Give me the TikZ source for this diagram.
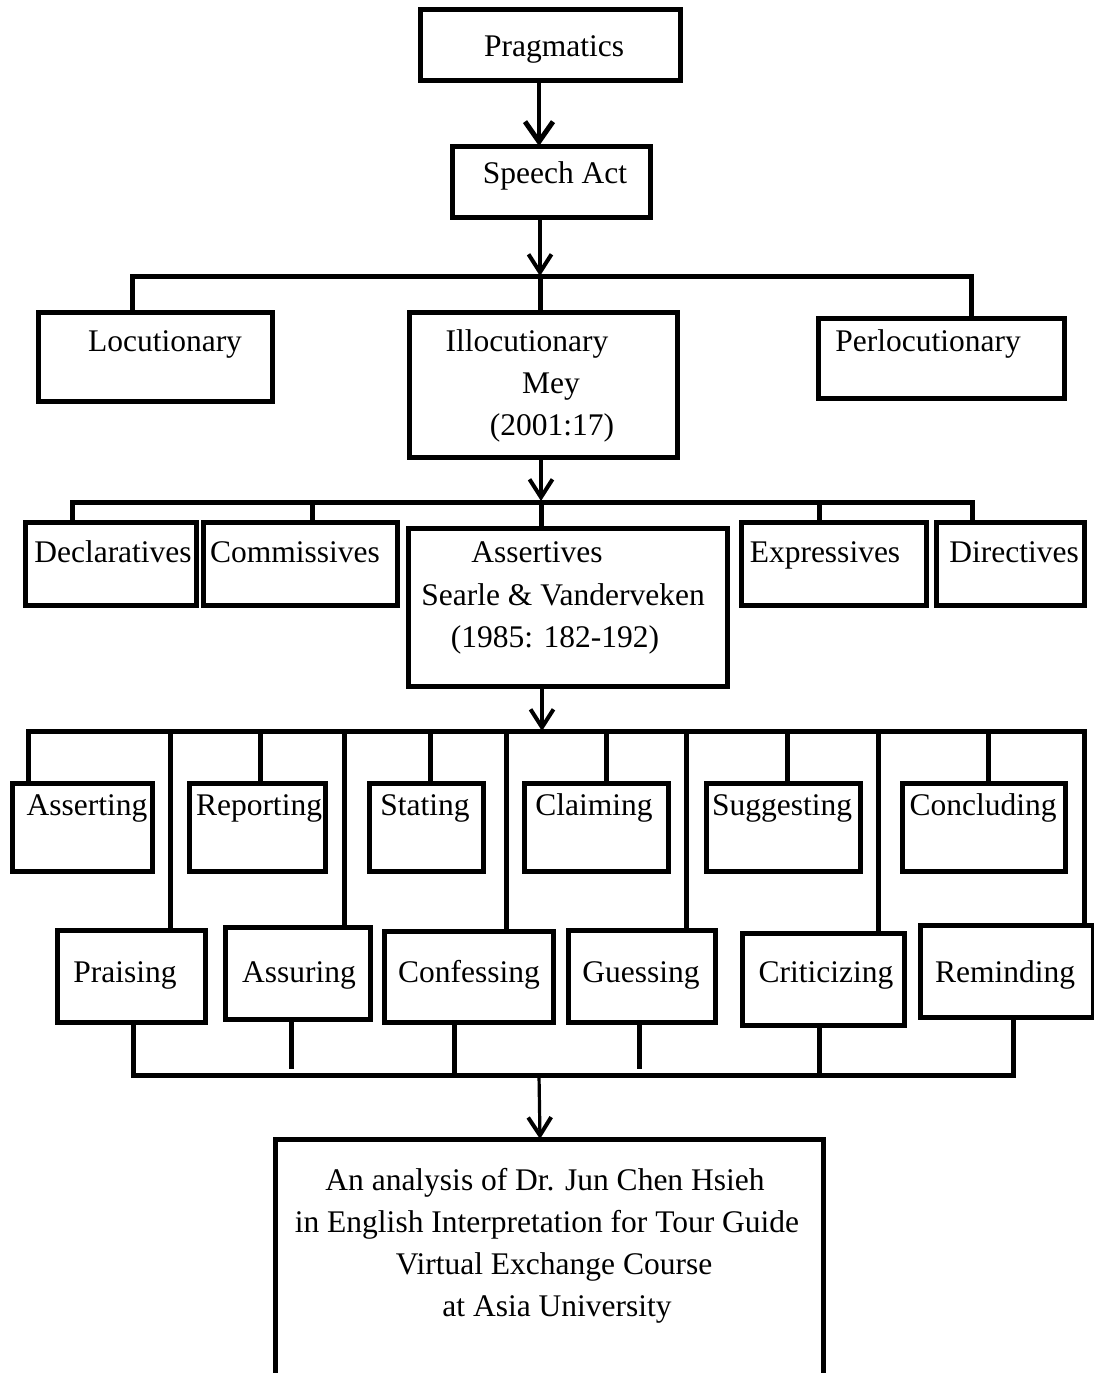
\documentclass[tikz,border=0pt]{standalone}
\usepackage{fontspec}
\setmainfont{Liberation Serif}
\usetikzlibrary{arrows.meta}
\newcommand\mybox[5]{\node[box, minimum width=#4pt-#2pt, minimum height=#5pt-#3pt] (#1) at ({(#2+#4)/2},{(#3+#5)/2}) {};}
\newcommand\mytxt[4]{\node[lbl] (#1) at (#2,#3) {#4};}
\begin{document}
\begin{tikzpicture}[x=1pt,y=-1pt,
  box/.style={draw, line width=5pt, rectangle, inner sep=0pt, outer sep=0pt},
  lbl/.style={anchor=base, inner sep=0pt, font=\fontsize{31.5}{38}\selectfont},
  conn/.style={line width=5pt},
  arr/.style={line width=3.2pt, -{Straight Barb[length=18pt,width=23pt,line width=4pt]}},
  bigarr/.style={line width=3.4pt, -{Straight Barb[length=20pt,width=28pt,line width=5pt]}},
]
\clip (0,0) rectangle (1094,1373);
\fill[white] (0,0) rectangle (1094,1373);

% boxes
\mybox{prag}{420}{9}{680}{80}
\mybox{speech}{452}{146}{650}{217}
\mybox{loc}{38}{312}{272}{401}
\mybox{illo}{409}{312}{677}{457}
\mybox{perl}{818}{318}{1064}{398}
\mybox{decl}{25}{522}{196}{605}
\mybox{comm}{203}{522}{397}{605}
\mybox{asse}{408}{528}{727}{686}
\mybox{expr}{741}{522}{926}{605}
\mybox{dire}{936}{522}{1084}{605}
\mybox{asg}{12}{783}{152}{871}
\mybox{rep}{189}{783}{325}{871}
\mybox{sta}{369}{783}{483}{871}
\mybox{cla}{524}{783}{668}{871}
\mybox{sug}{706}{783}{860}{871}
\mybox{con}{902}{783}{1065}{871}
\mybox{pra}{57}{930}{205}{1022}
\mybox{asu}{225}{927}{370}{1019}
\mybox{conf}{384}{931}{553}{1022}
\mybox{gue}{568}{930}{715}{1022}
\mybox{cri}{742}{933}{904}{1025}
\mybox{remi}{920}{925}{1093}{1017}
\node[box, minimum width=548pt, minimum height=300pt, anchor=north] (fin) at (549,1139) {};

% labels
\mytxt{tprag}{554}{56}{Pragmatics}
\mytxt{tspeech}{555}{183}{Speech Act}
\mytxt{tloc}{165}{351}{Locutionary}
\mytxt{tillo}{527}{351}{Illocutionary}
\mytxt{tmey}{551}{393}{Mey}
\mytxt{tmeyy}{552}{435}{(2001:17)}
\mytxt{tperl}{928}{351}{Perlocutionary}
\mytxt{tdecl}{113}{562}{Declaratives}
\mytxt{tcomm}{295}{562}{Commissives}
\mytxt{tasse}{537}{562}{Assertives}
\mytxt{tsv}{563}{605}{Searle \& Vanderveken}
\mytxt{tsvy}{555}{647}{(1985: 182-192)}
\mytxt{texpr}{825}{562}{Expressives}
\mytxt{tdire}{1014}{562}{Directives}
\mytxt{tasg}{87}{815}{Asserting}
\mytxt{trep}{259}{815}{Reporting}
\mytxt{tsta}{425}{815}{Stating}
\mytxt{tcla}{594}{815}{Claiming}
\mytxt{tsug}{782}{815}{Suggesting}
\mytxt{tcon}{983}{815}{Concluding}
\mytxt{tpra}{125}{982}{Praising}
\mytxt{tasu}{299}{982}{Assuring}
\mytxt{tconf}{469}{982}{Confessing}
\mytxt{tgue}{641}{982}{Guessing}
\mytxt{tcri}{826}{982}{Criticizing}
\mytxt{tremi}{1005}{982}{Reminding}
\mytxt{tf1}{545}{1190}{An analysis of Dr. Jun Chen Hsieh}
\mytxt{tf2}{547}{1232}{in English Interpretation for Tour Guide}
\mytxt{tf3}{554}{1274}{Virtual Exchange Course}
\mytxt{tf4}{557}{1316}{at Asia University}

% junctions
\coordinate (j1) at (540,276);
\coordinate (j2) at (541,501);
\coordinate (j3) at (542,731);
\coordinate (j4) at (539,1075);

% arrows
\draw[bigarr] (prag.south -| 539,0) -- (speech.north -| 539,0);
\draw[arr] (speech.south -| j1) -- (j1);
\draw[arr] (illo.south -| j2) -- (j2);
\draw[arr] (asse.south -| j3) -- (j3);
\draw[arr] (j4) -- (fin.north -| 540,0);

% level 1 bar
\draw[conn] (loc.north -| 132,0) -- (132,276) -- (971,276) -- (perl.north -| 971,0);
\draw[conn] (j1) -- (illo.north -| j1);

% level 2 bar
\draw[conn] (decl.north -| 72,0) -- (72,502) -- (972,502) -- (dire.north -| 972,0);
\draw[conn] (312,502) -- (comm.north -| 312,0);
\draw[conn] (j2) -- (asse.north -| j2);
\draw[conn] (819,502) -- (expr.north -| 819,0);

% level 3 bar
\draw[conn] (asg.north -| 28,0) -- (28,731) -- (1084,731) -- (remi.north -| 1084,0);
\draw[conn] (260,731) -- (rep.north -| 260,0);
\draw[conn] (430,731) -- (sta.north -| 430,0);
\draw[conn] (606,731) -- (cla.north -| 606,0);
\draw[conn] (787,731) -- (sug.north -| 787,0);
\draw[conn] (988,731) -- (con.north -| 988,0);
\draw[conn] (170,731) -- (pra.north -| 170,0);
\draw[conn] (344,731) -- (asu.north -| 344,0);
\draw[conn] (506,731) -- (conf.north -| 506,0);
\draw[conn] (686,731) -- (gue.north -| 686,0);
\draw[conn] (878,731) -- (cri.north -| 878,0);

% level 4 bar
\draw[conn] (pra.south -| 133,0) -- (133,1075) -- (1013,1075) -- (remi.south -| 1013,0);
\draw[conn] (asu.south -| 291,0) -- (291,1069);
\draw[conn] (conf.south -| 454,0) -- (454,1075);
\draw[conn] (gue.south -| 639,0) -- (639,1069);
\draw[conn] (cri.south -| 819,0) -- (819,1075);
\end{tikzpicture}
\end{document}
